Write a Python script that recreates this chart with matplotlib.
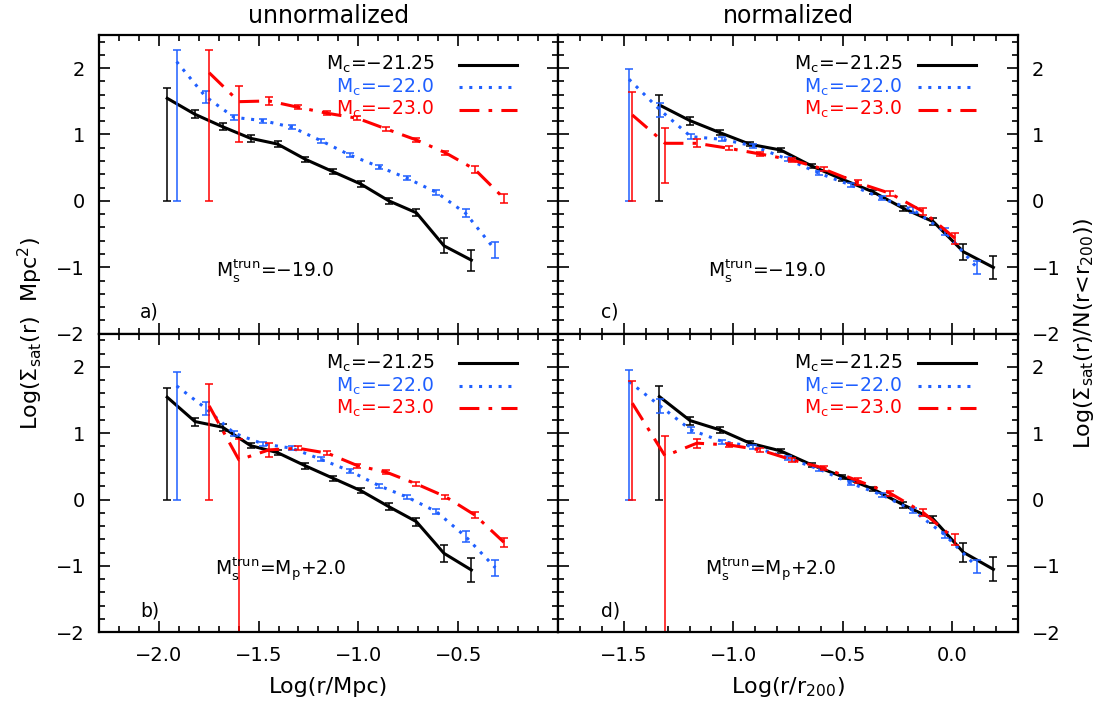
import matplotlib.pyplot as plt
import numpy as np
from matplotlib.ticker import MultipleLocator, FixedLocator

plt.rcParams['font.family'] = ['DejaVu Sans']
plt.rcParams['mathtext.fontset'] = 'dejavusans'

# radial bins (log r) for the three central magnitudes
x_mpc_2125 = [-1.957, -1.818, -1.680, -1.540, -1.405, -1.265, -1.127, -0.988, -0.848, -0.710, -0.572, -0.435]
x_mpc_2200 = [-1.910, -1.765, -1.622, -1.477, -1.332, -1.188, -1.043, -0.898, -0.755, -0.610, -0.463, -0.315]
x_mpc_2300 = [-1.747, -1.598, -1.448, -1.302, -1.155, -1.005, -0.860, -0.710, -0.565, -0.418, -0.272]

x_r200_2125 = [-1.338, -1.198, -1.061, -0.924, -0.784, -0.642, -0.502, -0.363, -0.223, -0.086, 0.051, 0.188]
x_r200_2200 = [-1.477, -1.335, -1.194, -1.050, -0.909, -0.751, -0.608, -0.464, -0.321, -0.178, -0.033, 0.112]
x_r200_2300 = [-1.462, -1.312, -1.167, -1.020, -0.878, -0.731, -0.584, -0.432, -0.284, -0.132, 0.013]

# a) unnormalized, M_s^trun = -19.0
a_y_2125 = [1.545, 1.304, 1.117, 0.942, 0.856, 0.625, 0.439, 0.253, 0.000, -0.180, -0.677, -0.893]
a_y_2200 = [2.097, 1.570, 1.258, 1.208, 1.108, 0.907, 0.690, 0.515, 0.339, 0.128, -0.189, -0.742]
a_y_2300 = [1.930, 1.494, 1.505, 1.410, 1.319, 1.244, 1.082, 0.917, 0.725, 0.475, 0.038]
a_lo_2125 = [1.545, 0.06, 0.05, 0.05, 0.04, 0.04, 0.04, 0.04, 0.04, 0.05, 0.115, 0.16]
a_hi_2125 = [0.150, 0.06, 0.05, 0.05, 0.04, 0.04, 0.04, 0.04, 0.04, 0.05, 0.115, 0.16]
a_lo_2200 = [2.097, 0.09, 0.04, 0.03, 0.03, 0.03, 0.03, 0.03, 0.03, 0.04, 0.06, 0.12]
a_hi_2200 = [0.176, 0.09, 0.04, 0.03, 0.03, 0.03, 0.03, 0.03, 0.03, 0.04, 0.06, 0.12]
a_lo_2300 = [1.930, 0.60, 0.06, 0.03, 0.03, 0.03, 0.03, 0.03, 0.03, 0.05, 0.07]
a_hi_2300 = [0.343, 0.24, 0.06, 0.03, 0.03, 0.03, 0.03, 0.03, 0.03, 0.05, 0.07]

# b) unnormalized, M_s^trun = M_p + 2.0
b_y_2125 = [1.542, 1.175, 1.090, 0.813, 0.707, 0.507, 0.321, 0.134, -0.107, -0.333, -0.810, -1.061]
b_y_2200 = [1.713, 1.376, 1.000, 0.838, 0.773, 0.607, 0.431, 0.210, 0.035, -0.182, -0.559, -1.027]
b_y_2300 = [1.411, 0.597, 0.748, 0.773, 0.698, 0.511, 0.412, 0.235, 0.044, -0.232, -0.644]
b_lo_2125 = [1.542, 0.06, 0.05, 0.04, 0.04, 0.04, 0.04, 0.04, 0.05, 0.06, 0.13, 0.18]
b_hi_2125 = [0.145, 0.06, 0.05, 0.04, 0.04, 0.04, 0.04, 0.04, 0.05, 0.06, 0.13, 0.18]
b_lo_2200 = [1.713, 0.10, 0.04, 0.03, 0.03, 0.03, 0.03, 0.03, 0.03, 0.04, 0.08, 0.12]
b_hi_2200 = [0.215, 0.10, 0.04, 0.03, 0.03, 0.03, 0.03, 0.03, 0.03, 0.04, 0.08, 0.12]
b_lo_2300 = [1.411, 3.00, 0.10, 0.03, 0.03, 0.03, 0.03, 0.03, 0.03, 0.04, 0.07]
b_hi_2300 = [0.327, 0.317, 0.10, 0.03, 0.03, 0.03, 0.03, 0.03, 0.03, 0.04, 0.07]

# c) normalized, M_s^trun = -19.0
c_y_2125 = [1.444, 1.208, 1.027, 0.852, 0.766, 0.525, 0.324, 0.137, -0.113, -0.315, -0.767, -1.003]
c_y_2200 = [1.832, 1.369, 0.967, 0.927, 0.826, 0.626, 0.415, 0.238, 0.038, -0.139, -0.466, -1.003]
c_y_2300 = [1.294, 0.867, 0.867, 0.791, 0.706, 0.615, 0.474, 0.273, 0.113, -0.164, -0.565]
c_lo_2125 = [1.444, 0.06, 0.04, 0.03, 0.03, 0.03, 0.03, 0.03, 0.04, 0.05, 0.12, 0.17]
c_hi_2125 = [0.151, 0.06, 0.04, 0.03, 0.03, 0.03, 0.03, 0.03, 0.04, 0.05, 0.12, 0.17]
c_lo_2200 = [1.832, 0.10, 0.04, 0.03, 0.03, 0.03, 0.03, 0.03, 0.03, 0.04, 0.05, 0.10]
c_hi_2200 = [0.150, 0.10, 0.04, 0.03, 0.03, 0.03, 0.03, 0.03, 0.03, 0.04, 0.05, 0.10]
c_lo_2300 = [1.294, 0.594, 0.06, 0.03, 0.03, 0.03, 0.03, 0.04, 0.04, 0.05, 0.08]
c_hi_2300 = [0.351, 0.235, 0.06, 0.03, 0.03, 0.03, 0.03, 0.04, 0.04, 0.05, 0.08]

# d) normalized, M_s^trun = M_p + 2.0
d_y_2125 = [1.551, 1.190, 1.049, 0.849, 0.733, 0.522, 0.346, 0.160, -0.081, -0.297, -0.795, -1.051]
d_y_2200 = [1.778, 1.411, 1.049, 0.873, 0.798, 0.623, 0.457, 0.246, 0.069, -0.167, -0.534, -1.012]
d_y_2300 = [1.452, 0.657, 0.849, 0.823, 0.748, 0.597, 0.472, 0.285, 0.095, -0.197, -0.598]
d_lo_2125 = [1.551, 0.06, 0.04, 0.03, 0.03, 0.03, 0.03, 0.03, 0.04, 0.05, 0.14, 0.18]
d_hi_2125 = [0.162, 0.06, 0.04, 0.03, 0.03, 0.03, 0.03, 0.03, 0.04, 0.05, 0.14, 0.18]
d_lo_2200 = [1.778, 0.10, 0.04, 0.03, 0.03, 0.03, 0.03, 0.03, 0.03, 0.04, 0.05, 0.10]
d_hi_2200 = [0.176, 0.10, 0.04, 0.03, 0.03, 0.03, 0.03, 0.03, 0.03, 0.04, 0.05, 0.10]
d_lo_2300 = [1.452, 3.00, 0.07, 0.03, 0.03, 0.03, 0.03, 0.04, 0.04, 0.05, 0.08]
d_hi_2300 = [0.336, 0.306, 0.07, 0.03, 0.03, 0.03, 0.03, 0.04, 0.04, 0.05, 0.08]

# labelled x ticks in each column
xticks_mpc = [-2.0, -1.5, -1.0, -0.5]
xticks_r200 = [-1.5, -1.0, -0.5, 0.0]

mc_labels = ['M$_\\mathregular{c}$=\u221221.25', 'M$_\\mathregular{c}$=\u221222.0', 'M$_\\mathregular{c}$=\u221223.0']
trun_labels = ['M$_\\mathregular{s}^\\mathregular{trun}$=\u221219.0',
               'M$_\\mathregular{s}^\\mathregular{trun}$=M$_\\mathregular{p}$+2.0']
colors = ['black', '#1f5fff', '#ff0000']
styles = ['-', (0, (1, 2.2)), (0, (6.5, 3, 1.2, 3))]

panels = [
    # tag, position, xlim, labelled ticks, xs, ys, lows, highs, trun label, its x
    ('a)', [0.0888, 0.5268], (-2.3, 0.0), xticks_mpc, [x_mpc_2125, x_mpc_2200, x_mpc_2300],
     [a_y_2125, a_y_2200, a_y_2300], [a_lo_2125, a_lo_2200, a_lo_2300],
     [a_hi_2125, a_hi_2200, a_hi_2300], trun_labels[0], 0.384),
    ('b)', [0.0888, 0.1031], (-2.3, 0.0), xticks_mpc, [x_mpc_2125, x_mpc_2200, x_mpc_2300],
     [b_y_2125, b_y_2200, b_y_2300], [b_lo_2125, b_lo_2200, b_lo_2300],
     [b_hi_2125, b_hi_2200, b_hi_2300], trun_labels[1], 0.395),
    ('c)', [0.5025, 0.5268], (-1.8, 0.3), xticks_r200, [x_r200_2125, x_r200_2200, x_r200_2300],
     [c_y_2125, c_y_2200, c_y_2300], [c_lo_2125, c_lo_2200, c_lo_2300],
     [c_hi_2125, c_hi_2200, c_hi_2300], trun_labels[0], 0.454),
    ('d)', [0.5025, 0.1031], (-1.8, 0.3), xticks_r200, [x_r200_2125, x_r200_2200, x_r200_2300],
     [d_y_2125, d_y_2200, d_y_2300], [d_lo_2125, d_lo_2200, d_lo_2300],
     [d_hi_2125, d_hi_2200, d_hi_2300], trun_labels[1], 0.463),
]

fig = plt.figure(figsize=(11.11, 7.05), dpi=100)

for tag, pos, xlim, xt, xs, ys, lows, highs, trun, trun_x in panels:
    ax = fig.add_axes([pos[0], pos[1], 0.4137, 0.4237])
    is_left = pos[0] < 0.3
    is_bottom = pos[1] < 0.3

    for x, y, lo, hi, c, ls in zip(xs, ys, lows, highs, colors, styles):
        ax.errorbar(x, y, yerr=[lo, hi], fmt='none', ecolor=c, elinewidth=1.1,
                    capsize=3, capthick=1.1)
        ax.plot(x, y, color=c, linestyle=ls, linewidth=2.2)

    # hand-made key in the upper right
    text_right = 0.73 if is_left else 0.748
    line_x = [0.785, 0.911] if is_left else [0.782, 0.908]
    for i, (lab, c, ls) in enumerate(zip(mc_labels, colors, styles)):
        yy = 0.9 - 0.075 * i
        ax.text(text_right, yy, lab, color=c, ha='right', va='center',
                fontsize=13.5, transform=ax.transAxes)
        ax.plot(line_x, [yy, yy], color=c, linestyle=ls, linewidth=2.2,
                transform=ax.transAxes)

    ax.text(trun_x, 0.21, trun, ha='center', va='center', fontsize=13.5,
            transform=ax.transAxes)
    ax.text(0.09 if is_left else 0.094, 0.073, tag, ha='left', va='center',
            fontsize=13.5, transform=ax.transAxes)

    ax.set_xlim(*xlim)
    ax.set_ylim(-2, 2.5)
    ax.xaxis.set_major_locator(FixedLocator(xt))
    ax.xaxis.set_minor_locator(MultipleLocator(0.1))
    ax.yaxis.set_major_locator(MultipleLocator(1))
    ax.yaxis.set_minor_locator(MultipleLocator(0.2))
    ax.tick_params(which='both', direction='in', top=True, right=True,
                   labelleft=is_left, labelright=not is_left,
                   labelbottom=is_bottom, labelsize=14, width=1.2)
    ax.tick_params(which='major', length=8, pad=10)
    ax.tick_params(which='minor', length=4.5)
    ax.xaxis.set_major_formatter(plt.FuncFormatter(
        lambda v, p: ('%.1f' % v).replace('-', '\u2212')))
    ax.yaxis.set_major_formatter(plt.FuncFormatter(
        lambda v, p: ('%d' % round(v)).replace('-', '\u2212')))
    for sp in ax.spines.values():
        sp.set_linewidth(1.6)

fig.text(0.2957, 0.978, 'unnormalized', ha='center', va='center', fontsize=17)
fig.text(0.7093, 0.978, 'normalized', ha='center', va='center', fontsize=17)
fig.text(0.2957, 0.026, 'Log(r/Mpc)', ha='center', va='center', fontsize=16)
fig.text(0.7093, 0.026, 'Log(r/r$_\\mathregular{200}$)', ha='center', va='center', fontsize=16)
fig.text(0.027, 0.527, 'Log(\u03a3$_\\mathregular{sat}$(r)  Mpc$^\\mathregular{2}$)',
         rotation=90, ha='center', va='center', fontsize=16)
fig.text(0.976, 0.527, 'Log(\u03a3$_\\mathregular{sat}$(r)/N(r<r$_\\mathregular{200}$))',
         rotation=90, ha='center', va='center', fontsize=16)

fig.savefig('out.png', dpi=100)
